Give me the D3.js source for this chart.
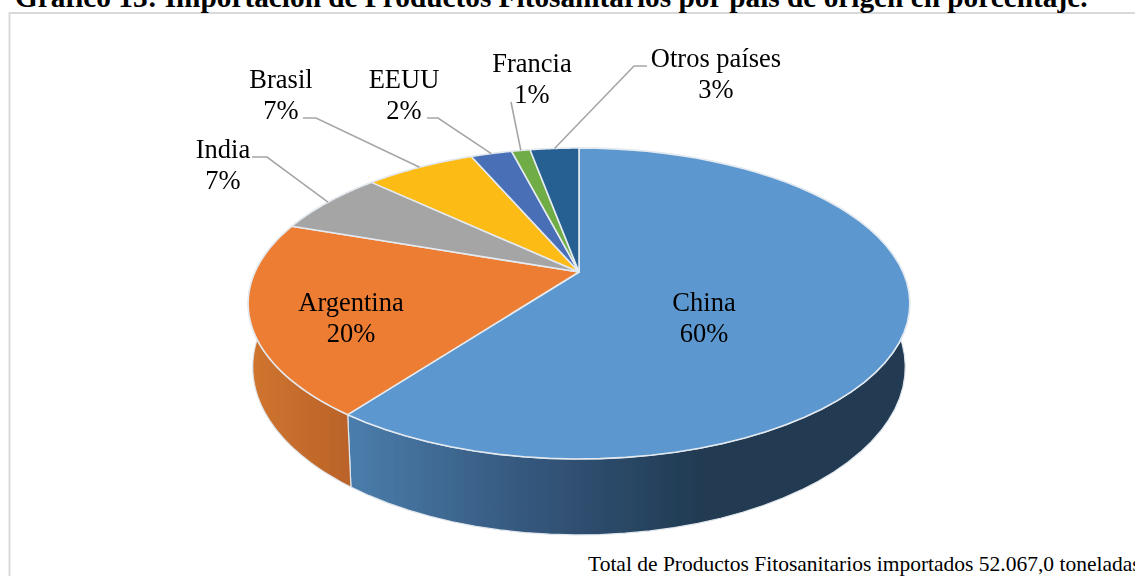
<!DOCTYPE html>
<html>
<head>
<meta charset="utf-8">
<script src="https://cdnjs.cloudflare.com/ajax/libs/d3/7.8.5/d3.min.js"></script>
<style>
    html, body { margin: 0; padding: 0; background: #fff; overflow: hidden; }
    text { font-family: "Liberation Serif", serif; fill: #000; }
</style>
</head>
<body>
<svg id="chart" width="1135" height="576"></svg>
<script>
var paises = ["China", "Argentina", "India", "Brasil", "EEUU", "Francia", "Otros países"];
var valores = [60.2, 20.1, 6.7, 6.55, 2.45, 1.1, 2.9];
var colores = ["#5b98cf", "#ed7d31", "#a5a5a5", "#fdbb17", "#4a70b7", "#70ad47", "#255e91"];
var titulo = "Gráfico 13: Importación de Productos Fitosanitarios por país de origen en porcentaje.";
var nota = "Total de Productos Fitosanitarios importados 52.067,0 toneladas";

var svg = d3.select("#chart");

// perspective of the tilted disc: the apex sits above the centre of the ellipse
var k = 0.2026;
var top_ = { x: 579, y: 272, a: 324, b: 149.1 };
var bottom = { x: 579, y: 333, a: 319.5, b: 161 };

function project(disc, t) {
    var w = 1 + k * Math.cos(t);
    return [disc.x + disc.a * Math.sin(t) / w, disc.y - disc.b * Math.cos(t) / w];
}

function arcPoints(disc, t0, t1) {
    return d3.range(0, 61).map(function (i) {
        return project(disc, t0 + (t1 - t0) * i / 60);
    });
}

var line = d3.line();
var pct = d3.format(".0%");

var slices = d3.pie().sort(null).value(function (d) {
    return d;
})(valores);

var defs = svg.append("defs");

defs.append("filter").attr("id", "soft")
    .append("feGaussianBlur").attr("stdDeviation", 0.45);

defs.append("filter").attr("id", "softText")
    .attr("x", "-5%").attr("y", "-20%").attr("width", "110%").attr("height", "140%")
    .append("feGaussianBlur").attr("stdDeviation", 0.3);

// wall shading runs left to right, flat and dark past x = 700
var wallBlue = defs.append("linearGradient").attr("id", "wall0")
    .attr("gradientUnits", "userSpaceOnUse")
    .attr("x1", 350).attr("x2", 910).attr("y1", 0).attr("y2", 0);
wallBlue.append("stop").attr("offset", 0).attr("stop-color", "#4a7dab");
wallBlue.append("stop").attr("offset", 0.3).attr("stop-color", "#36597f");
wallBlue.append("stop").attr("offset", 0.62).attr("stop-color", "#213b53");
wallBlue.append("stop").attr("offset", 1).attr("stop-color", "#203a52");

var wallOrange = defs.append("linearGradient").attr("id", "wall1")
    .attr("gradientUnits", "userSpaceOnUse")
    .attr("x1", 250).attr("x2", 355).attr("y1", 0).attr("y2", 0);
wallOrange.append("stop").attr("offset", 0).attr("stop-color", "#d0752f");
wallOrange.append("stop").attr("offset", 1).attr("stop-color", "#b9622a");

// chart frame, cut by the bottom and right edges of the picture
svg.append("path")
    .attr("d", line([[9.5, 576], [9.5, 13], [1135, 13]]))
    .attr("fill", "none")
    .attr("stroke", "#d9d9d9")
    .attr("stroke-width", 2);

var pie = svg.append("g").attr("filter", "url(#soft)");

pie.selectAll("path.wall")
    .data(slices)
    .enter().append("path")
    .attr("class", "wall")
    .attr("d", function (d) {
        var outer = arcPoints(top_, d.startAngle, d.endAngle);
        var inner = arcPoints(bottom, d.endAngle, d.startAngle);
        return line(outer.concat(inner)) + "Z";
    })
    .attr("fill", function (d, i) {
        return i < 2 ? "url(#wall" + i + ")" : colores[i];
    })
    .attr("stroke", "#dfe6ec")
    .attr("stroke-width", 1.2)
    .attr("stroke-linejoin", "round");

pie.selectAll("path.top")
    .data(slices)
    .enter().append("path")
    .attr("class", "top")
    .attr("d", function (d) {
        var rim = arcPoints(top_, d.startAngle, d.endAngle);
        return line([[top_.x, top_.y]].concat(rim)) + "Z";
    })
    .attr("fill", function (d, i) {
        return colores[i];
    })
    .attr("stroke", "#e4eaf0")
    .attr("stroke-width", 1.6)
    .attr("stroke-linejoin", "round");

// leader elbows, the last point lands on the middle of each small slice
var guias = {
    "India": [[252, 157], [267, 157]],
    "Brasil": [[303, 118], [316, 118]],
    "EEUU": [[427, 118], [438, 118]],
    "Francia": [[511, 102]],
    "Otros países": [[647, 66], [634, 66]]
};

svg.append("g").attr("filter", "url(#soft)").selectAll("path")
    .data(slices.filter(function (d) {
        return guias[paises[d.index]];
    }))
    .enter().append("path")
    .attr("d", function (d) {
        var mid = (d.startAngle + d.endAngle) / 2;
        return line(guias[paises[d.index]].concat([project(top_, mid)]));
    })
    .attr("fill", "none")
    .attr("stroke", "#a6a6a6")
    .attr("stroke-width", 1.6);

// label centres
var rotulos = {
    "China": [704, 311],
    "Argentina": [351, 311],
    "India": [223, 158],
    "Brasil": [281, 88],
    "EEUU": [404, 88],
    "Francia": [532, 72],
    "Otros países": [716, 67]
};

var labels = svg.append("g")
    .attr("font-size", 26.5)
    .attr("text-anchor", "middle")
    .attr("filter", "url(#softText)");

slices.forEach(function (d) {
    var nombre = paises[d.index];
    var pos = rotulos[nombre];
    labels.append("text").attr("x", pos[0]).attr("y", pos[1]).text(nombre);
    labels.append("text").attr("x", pos[0]).attr("y", pos[1] + 31).text(pct(d.value / 100));
});

svg.append("text")
    .attr("x", 15).attr("y", 7)
    .attr("font-size", 29.3).attr("font-weight", "bold")
    .text(titulo);

svg.append("text")
    .attr("x", 588).attr("y", 571)
    .attr("font-size", 21.5)
    .text(nota);
</script>
</body>
</html>
